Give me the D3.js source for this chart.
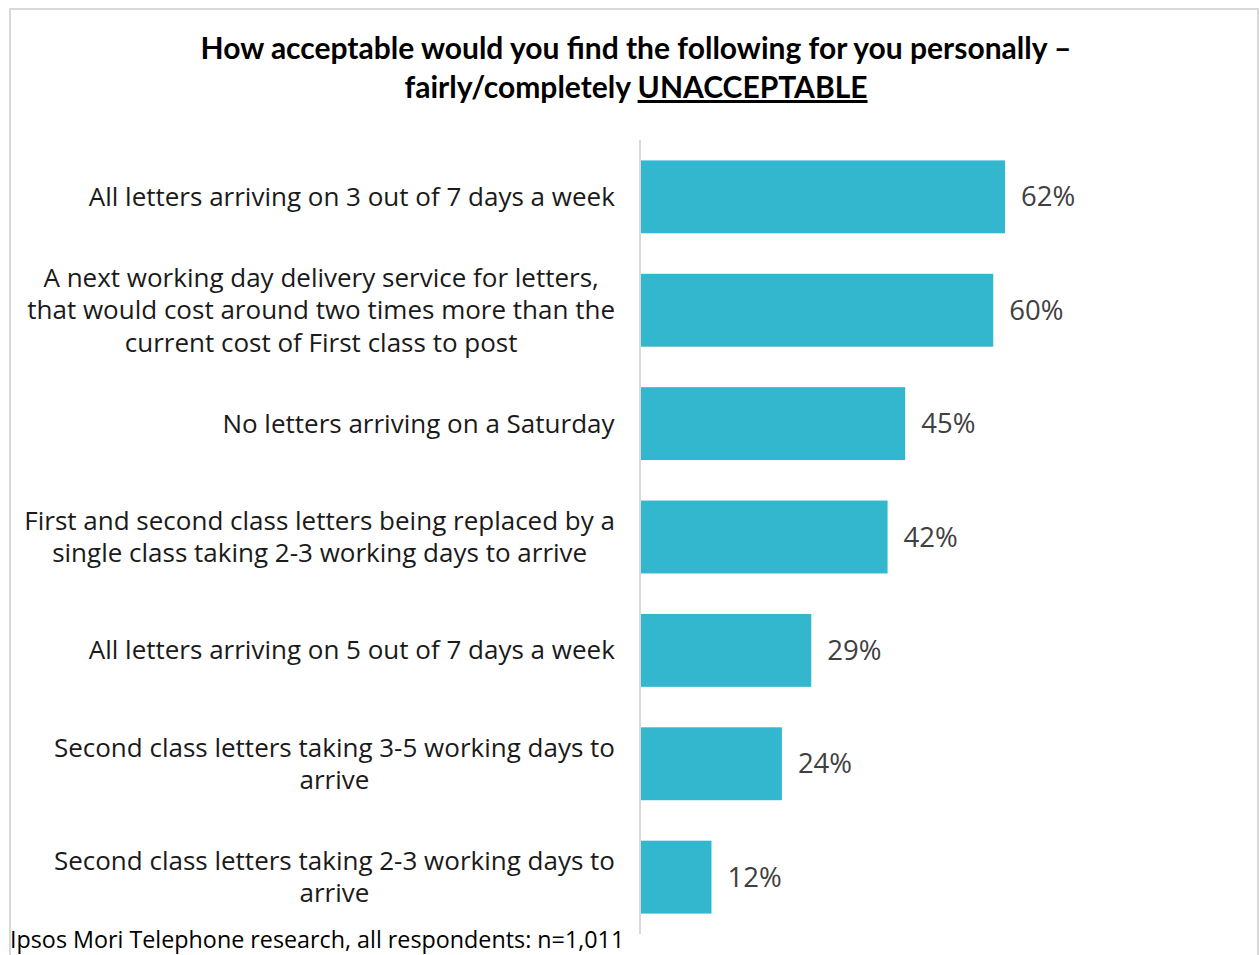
<!DOCTYPE html>
<html>
<head>
<meta charset="utf-8">
<script src="https://cdn.jsdelivr.net/npm/d3@7"></script>
<style>
  body { margin: 0; background: #fff; }
  svg { display: block; }
  .title { font-family: Lato, sans-serif; font-weight: bold; font-size: 30px; fill: #000; }
  .cat-label { font-family: "Open Sans", sans-serif; font-size: 26px; fill: #1a1a1a; }
  .val-label { font-family: "Open Sans", sans-serif; font-size: 27.5px; fill: #404040; }
  .footer { font-family: "Open Sans", sans-serif; font-size: 23.3px; fill: #000; }
</style>
</head>
<body>
<svg id="chart" width="1260" height="955"></svg>
<script>
/* chart data */
const categories = [
    ['All letters arriving on 3 out of 7 days a week'],
    ['A next working day delivery service for letters,', 'that would cost around two times more than the', 'current cost of First class to post'],
    ['No letters arriving on a Saturday'],
    ['First and second class letters being replaced by a', 'single class taking 2-3 working days to arrive'],
    ['All letters arriving on 5 out of 7 days a week'],
    ['Second class letters taking 3-5 working days to', 'arrive'],
    ['Second class letters taking 2-3 working days to', 'arrive']
];
const values = [62, 60, 45, 42, 29, 24, 12];
const titleLines = ['How acceptable would you find the following for you personally \u2013', 'fairly/completely '];
const titleEmph = 'UNACCEPTABLE';
const footerText = 'Ipsos Mori Telephone research, all respondents: n=1,011';

let svg = d3.select('#chart');

// outer frame
svg.append('rect').attr('x', 10).attr('y', 9).attr('width', 1248).attr('height', 960)
    .attr('fill', 'none').attr('stroke', '#d9d9d9').attr('stroke-width', 2);

const x0 = 641;
let xScale = d3.scaleLinear().domain([0, 62]).range([x0, 1005]);
let yScale = d3.scaleBand().domain(d3.range(values.length))
    .range([140, 934]).paddingInner(0.357).paddingOuter(0.18);

// title
let title = svg.append('text').classed('title', true).attr('text-anchor', 'middle');
title.append('tspan').attr('x', 636).attr('y', 59).text(titleLines[0]);
let t2 = title.append('tspan').attr('x', 636).attr('y', 98).text(titleLines[1]);
t2.append('tspan').attr('text-decoration', 'underline').text(titleEmph);

// bars
svg.append('g').selectAll('rect').data(values).join('rect')
    .attr('x', x0)
    .attr('y', (d, i) => yScale(i))
    .attr('width', d => xScale(d) - x0)
    .attr('height', yScale.bandwidth())
    .attr('fill', '#33b7cf');

// axis line
svg.append('line').attr('x1', 640).attr('x2', 640).attr('y1', 140).attr('y2', 934)
    .attr('stroke', '#d9d9d9').attr('stroke-width', 2);

// value labels
svg.append('g').selectAll('text').data(values).join('text').classed('val-label', true)
    .attr('x', d => xScale(d) + 16)
    .attr('y', (d, i) => yScale(i) + yScale.bandwidth() / 2)
    .attr('dy', '0.35em')
    .text(d => d + '%');

// category labels: lines centred in a block right-aligned at 615
const lineH = 32.5;
categories.forEach((lines, i) => {
    let txt = svg.append('text').classed('cat-label', true).attr('text-anchor', 'middle');
    let cy = yScale(i) + yScale.bandwidth() / 2;
    lines.forEach((l, j) => {
        txt.append('tspan').attr('x', 0)
            .attr('y', cy + (j - (lines.length - 1) / 2) * lineH)
            .attr('dy', '0.35em').text(l);
    });
    let w = txt.node().getBBox().width;
    txt.attr('transform', 'translate(' + (615 - w / 2) + ',0)');
});

// footer
svg.append('text').classed('footer', true).attr('x', 10).attr('y', 948).text(footerText);
</script>
</body>
</html>
